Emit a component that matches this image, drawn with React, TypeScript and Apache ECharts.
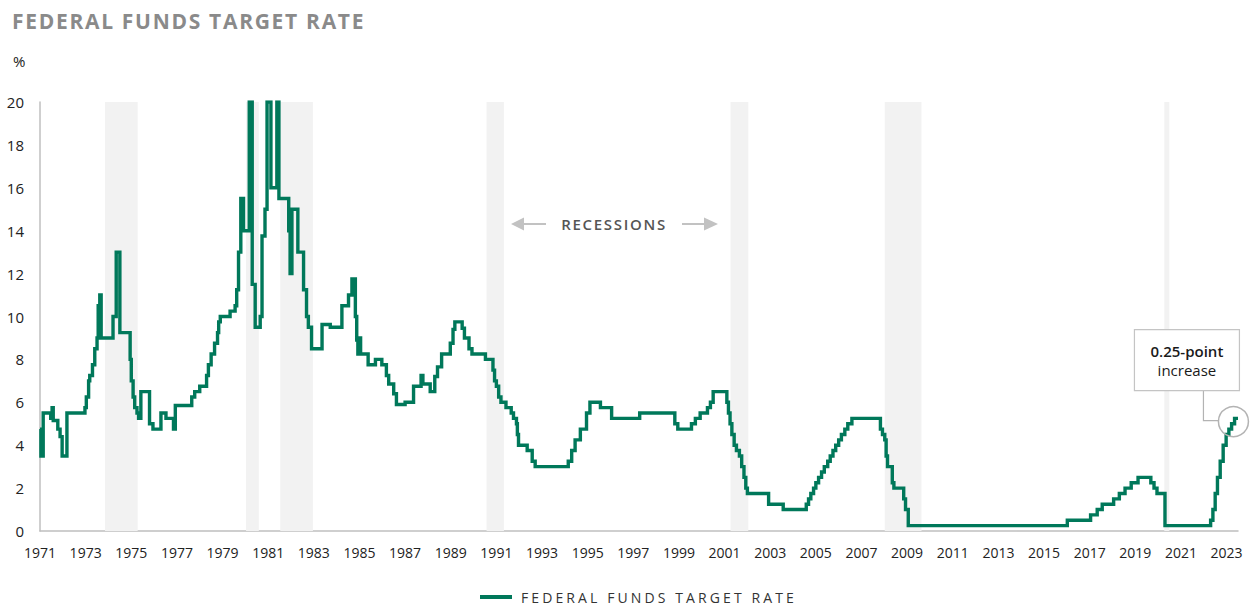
import React, { useEffect, useRef } from "react";
import * as echarts from "echarts";

// Dates (decimal years) at which the target rate changed, and the new rate (%)
const changeDates = [
  1971.0, 1971.04, 1971.14, 1971.47, 1971.53, 1971.58, 1971.78, 1971.88, 1971.97, 1972.18,
  1972.97, 1973.03, 1973.13, 1973.18, 1973.3, 1973.4, 1973.5, 1973.55, 1973.62, 1973.68,
  1974.2, 1974.34, 1974.5, 1974.95, 1975.0, 1975.08, 1975.15, 1975.25, 1975.32, 1975.42,
  1975.8, 1975.95, 1976.3, 1976.52, 1976.85, 1976.93, 1977.65, 1977.78, 1978.0, 1978.3,
  1978.38, 1978.5, 1978.65, 1978.78, 1978.83, 1978.9, 1979.33, 1979.55, 1979.62, 1979.7,
  1979.8, 1979.92, 1980.17, 1980.3, 1980.43, 1980.65, 1980.73, 1980.86, 1980.95, 1981.12,
  1981.38, 1981.47, 1981.9, 1981.96, 1982.04, 1982.3, 1982.55, 1982.68, 1982.76, 1982.9,
  1983.36, 1983.72, 1984.23, 1984.52, 1984.67, 1984.82, 1984.88, 1984.93, 1984.98, 1985.05,
  1985.38, 1985.7, 1985.98, 1986.18, 1986.28, 1986.5, 1986.62, 1987.0, 1987.37, 1987.7,
  1987.78, 1988.1, 1988.3, 1988.42, 1988.6, 1988.98, 1989.1, 1989.18, 1989.5, 1989.6,
  1989.8, 1989.93, 1990.52, 1990.85, 1990.92, 1991.0, 1991.1, 1991.2, 1991.42, 1991.65,
  1991.75, 1991.88, 1991.92, 1991.97, 1992.35, 1992.57, 1992.7, 1994.15, 1994.3, 1994.45,
  1994.68, 1994.95, 1995.1, 1995.56, 1996.05, 1997.28, 1998.82, 1998.95, 1999.55, 1999.72,
  1999.93, 2000.25, 2000.38, 2000.5, 2001.1, 2001.17, 2001.24, 2001.32, 2001.42, 2001.52,
  2001.65, 2001.75, 2001.85, 2001.93, 2002.0, 2002.93, 2003.57, 2004.58, 2004.68, 2004.78,
  2004.9, 2005.0, 2005.12, 2005.25, 2005.37, 2005.52, 2005.63, 2005.75, 2005.87, 2006.0,
  2006.12, 2006.27, 2006.4, 2006.58, 2007.83, 2007.92, 2008.02, 2008.08, 2008.14, 2008.35,
  2008.42, 2008.85, 2008.93, 2009.05, 2016.02, 2017.04, 2017.33, 2017.55, 2018.05, 2018.3,
  2018.55, 2018.82, 2019.12, 2019.68, 2019.82, 2019.95, 2020.3, 2022.3, 2022.4, 2022.5,
  2022.6, 2022.72, 2022.85, 2022.98, 2023.1, 2023.22, 2023.35, 2023.5,
];
const targetRates = [
  4.75, 3.5, 5.5, 5.25, 5.75, 5.15, 4.75, 4.4, 3.5, 5.5,
  5.75, 6.25, 7.0, 7.25, 7.75, 8.5, 9.0, 10.5, 11.0, 9.0,
  10.0, 13.0, 9.25, 8.0, 7.0, 6.25, 5.75, 5.5, 5.25, 6.5,
  5.0, 4.75, 5.5, 5.25, 4.75, 5.85, 6.25, 6.5, 6.75, 7.25,
  7.75, 8.25, 8.75, 9.25, 9.75, 10.0, 10.25, 10.5, 11.25, 13.0,
  15.5, 14.0, 20.0, 11.5, 9.5, 10.0, 13.75, 15.0, 20.0, 16.0,
  20.0, 15.5, 14.0, 12.0, 15.0, 13.0, 11.25, 10.0, 9.5, 8.5,
  9.63, 9.5, 10.5, 11.0, 11.75, 10.0, 8.9, 8.25, 9.0, 8.25,
  7.75, 8.0, 7.75, 7.25, 6.85, 6.4, 5.9, 6.0, 6.75, 7.25,
  6.85, 6.5, 7.2, 7.65, 8.25, 8.75, 9.4, 9.75, 9.45, 9.0,
  8.5, 8.25, 8.0, 7.5, 7.0, 6.75, 6.25, 6.0, 5.75, 5.5,
  5.25, 5.0, 4.5, 4.0, 3.75, 3.25, 3.0, 3.25, 3.75, 4.25,
  4.75, 5.5, 6.0, 5.75, 5.25, 5.5, 5.0, 4.75, 5.0, 5.25,
  5.5, 5.75, 6.0, 6.5, 6.0, 5.5, 5.0, 4.5, 4.0, 3.75,
  3.5, 3.0, 2.5, 2.0, 1.75, 1.25, 1.0, 1.25, 1.5, 1.75,
  2.0, 2.25, 2.5, 2.75, 3.0, 3.25, 3.5, 3.75, 4.0, 4.25,
  4.5, 4.75, 5.0, 5.25, 4.75, 4.5, 4.25, 3.5, 3.0, 2.25,
  2.0, 1.5, 1.0, 0.25, 0.5, 0.75, 1.0, 1.25, 1.5, 1.75,
  2.0, 2.25, 2.5, 2.25, 2.0, 1.75, 0.25, 0.5, 1.0, 1.75,
  2.5, 3.25, 4.0, 4.5, 4.75, 5.0, 5.25, 5.25,
];

// Recession periods (decimal years)
const recessionStarts = [1973.85, 1980.03, 1981.53, 1990.57, 2001.26, 2008.02, 2020.27];
const recessionEnds = [1975.28, 1980.59, 1982.96, 1991.33, 2002.04, 2009.63, 2020.49];

const firstYear = 1971;
const lastYear = 2023.5;
const labelStepYears = 2;
const yMin = 0;
const yMax = 20;
const yStep = 2;

const seriesName = "FEDERAL FUNDS TARGET RATE";
const titleText = "FEDERAL FUNDS TARGET RATE";
const unitText = "%";
const recessionLabel = "RECESSIONS";
const annotationLines = ["0.25-point", "increase"];
const annotationAnchor = [2023.3, 5.1];

const GREEN = "#00785a";
const FONT = "'Open Sans', sans-serif";

export default function App() {
  const ref = useRef<HTMLDivElement>(null);

  useEffect(() => {
    document.body.style.margin = "0";
    if (!ref.current) return;
    const chart = echarts.init(ref.current, undefined, { renderer: "svg" });

    const lineData = changeDates.map((d, i) => [d - firstYear, targetRates[i]]);
    const areas = recessionStarts.map((s, i) => [
      { xAxis: s - firstYear },
      { xAxis: recessionEnds[i] - firstYear },
    ]);

    chart.setOption({
      animation: false,
      backgroundColor: "#ffffff",
      title: {
        text: titleText,
        left: 7,
        top: 5,
        textStyle: {
          fontFamily: "'Open Sans', Arial",
          fontSize: 21,
          fontWeight: "bold",
          color: "#8a8a8a",
        },
      },
      legend: {
        data: [{ name: seriesName, icon: "rect" }],
        left: 480,
        top: 589,
        padding: 0,
        itemWidth: 32,
        itemHeight: 4,
        itemGap: 10,
        textStyle: {
          fontFamily: "'Open Sans', Verdana",
          fontSize: 14,
          lineHeight: 16,
          color: "#333333",
          padding: [0, 0, 0, 4],
        },
      },
      grid: { left: 40, right: 13, top: 102, bottom: 75, containLabel: false },
      xAxis: {
        type: "value",
        min: 0,
        max: lastYear - firstYear,
        interval: labelStepYears,
        axisLine: { show: true, lineStyle: { color: "#bfbfbf", width: 1.5 } },
        axisTick: { show: false },
        splitLine: { show: false },
        axisLabel: {
          margin: 14,
          fontFamily: FONT,
          fontSize: 14,
          color: "#222222",
          showMaxLabel: false,
          formatter: (v: number) =>
            Math.abs(v - Math.round(v)) < 1e-6 && Math.round(v) % labelStepYears === 0
              ? String(firstYear + Math.round(v))
              : "",
        },
      },
      yAxis: {
        type: "value",
        min: yMin,
        max: yMax,
        interval: yStep,
        axisLine: { show: true, lineStyle: { color: "#bfbfbf", width: 1.5 } },
        axisTick: { show: false },
        splitLine: { show: false },
        axisLabel: {
          margin: 16,
          fontFamily: FONT,
          fontSize: 15,
          color: "#222222",
        },
      },
      series: [
        {
          name: seriesName,
          type: "line",
          step: "end",
          data: lineData,
          showSymbol: false,
          symbol: "none",
          z: 3,
          lineStyle: { color: GREEN, width: 3.4, join: "miter" },
          itemStyle: { color: GREEN },
          markArea: {
            silent: true,
            z: 1,
            itemStyle: { color: "#f2f2f2" },
            data: areas,
          },
        },
      ],
    });

    const [ax, ay] = chart.convertToPixel({ gridIndex: 0 }, [
      annotationAnchor[0] - firstYear,
      annotationAnchor[1],
    ]) as number[];
    const r = 15;
    const boxW = 105;
    const boxH = 61;
    const boxX = ax + 6 - boxW;
    const boxY = ay - 92;
    const connX = boxX + 69;

    const recX = 614;
    const recY = 224;
    const arrowColor = "#c2c2c2";

    chart.setOption({
      graphic: [
        {
          id: "unit",
          type: "text",
          left: 13,
          top: 53,
          style: { text: unitText, font: `15px ${FONT}`, fill: "#222222" },
        },
        {
          id: "rec-text",
          type: "text",
          x: recX,
          y: recY,
          style: {
            text: recessionLabel,
            font: "600 15px 'Open Sans', Tahoma",
            fill: "#555555",
            align: "center",
            verticalAlign: "middle",
          },
        },
        {
          id: "rec-left-shaft",
          type: "line",
          shape: { x1: recX - 92, y1: recY, x2: recX - 68, y2: recY },
          style: { stroke: arrowColor, lineWidth: 2 },
        },
        {
          id: "rec-left-head",
          type: "polygon",
          shape: {
            points: [
              [recX - 103, recY],
              [recX - 90, recY - 6.5],
              [recX - 90, recY + 6.5],
            ],
          },
          style: { fill: arrowColor },
        },
        {
          id: "rec-right-shaft",
          type: "line",
          shape: { x1: recX + 68, y1: recY, x2: recX + 92, y2: recY },
          style: { stroke: arrowColor, lineWidth: 2 },
        },
        {
          id: "rec-right-head",
          type: "polygon",
          shape: {
            points: [
              [recX + 104, recY],
              [recX + 90, recY - 6.5],
              [recX + 90, recY + 6.5],
            ],
          },
          style: { fill: arrowColor },
        },
        {
          id: "ann-circle",
          type: "circle",
          shape: { cx: ax, cy: ay, r },
          style: { fill: "none", stroke: "#b3b3b3", lineWidth: 1.5 },
          z: 10,
        },
        {
          id: "ann-conn",
          type: "polyline",
          shape: {
            points: [
              [connX, boxY + boxH],
              [connX, ay - 1],
              [ax - r, ay - 1],
            ],
          },
          style: { fill: "none", stroke: "#b3b3b3", lineWidth: 1.2 },
          z: 10,
        },
        {
          id: "ann-box",
          type: "rect",
          shape: { x: boxX, y: boxY, width: boxW, height: boxH },
          style: { fill: "#ffffff", stroke: "#c4c4c4", lineWidth: 1.2 },
          z: 10,
        },
        {
          id: "ann-text-1",
          type: "text",
          x: boxX + boxW / 2,
          y: boxY + 21,
          z: 11,
          style: {
            text: annotationLines[0],
            font: `600 15px ${FONT}`,
            fill: "#1a1a1a",
            align: "center",
            verticalAlign: "middle",
          },
        },
        {
          id: "ann-text-2",
          type: "text",
          x: boxX + boxW / 2,
          y: boxY + 40,
          z: 11,
          style: {
            text: annotationLines[1],
            font: `15px ${FONT}`,
            fill: "#1a1a1a",
            align: "center",
            verticalAlign: "middle",
          },
        },
      ],
    });

    return () => chart.dispose();
  }, []);

  return (
    <>
      <style>{`
        .fed-chart text[style*="Arial"] { letter-spacing: 1.7px; }
        .fed-chart text[style*="Verdana"] { letter-spacing: 3.1px; }
        .fed-chart text[style*="Tahoma"] { letter-spacing: 1.7px; }
      `}</style>
      <div className="fed-chart" ref={ref} style={{ width: 1251, height: 606 }} />
    </>
  );
}
